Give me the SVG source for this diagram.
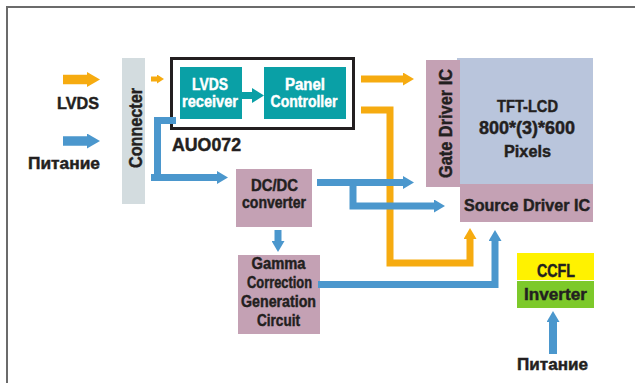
<svg xmlns="http://www.w3.org/2000/svg" width="635" height="383" viewBox="0 0 635 383">
  <style>
    text { font-family: "Liberation Sans", Arial, sans-serif; font-weight: bold; fill: #231f20; stroke: #231f20; stroke-width: 0.45; text-anchor: middle; }
    text.w { fill: #ffffff; stroke: #ffffff; }
    .teal { fill: #0aa0a6; }
    .mauve { fill: #c4a1b4; }
    .blue { fill: none; stroke: #4b97cd; stroke-width: 7; stroke-linejoin: miter; }
    .orange { fill: none; stroke: #f6ab10; stroke-width: 7; stroke-linejoin: miter; }
  </style>
  <defs>
    <marker id="headBlue" markerUnits="userSpaceOnUse" markerWidth="11" markerHeight="13" refX="0.5" refY="6.5" orient="auto">
      <path d="M0,0 L11,6.5 L0,13 z" fill="#4b97cd"/>
    </marker>
    <marker id="headOrange" markerUnits="userSpaceOnUse" markerWidth="11" markerHeight="13" refX="0.5" refY="6.5" orient="auto">
      <path d="M0,0 L11,6.5 L0,13 z" fill="#f6ab10"/>
    </marker>
    <marker id="bigBlue" markerUnits="userSpaceOnUse" markerWidth="13" markerHeight="15" refX="0.5" refY="7.5" orient="auto">
      <path d="M0,0 L13,7.5 L0,15 z" fill="#4b97cd"/>
    </marker>
    <marker id="bigOrange" markerUnits="userSpaceOnUse" markerWidth="13" markerHeight="15" refX="0.5" refY="7.5" orient="auto">
      <path d="M0,0 L13,7.5 L0,15 z" fill="#f6ab10"/>
    </marker>
    <marker id="smallOrange" markerUnits="userSpaceOnUse" markerWidth="7" markerHeight="9" refX="0.5" refY="4.5" orient="auto">
      <path d="M0,0 L7,4.5 L0,9 z" fill="#f6ab10"/>
    </marker>
    <marker id="headTeal" markerUnits="userSpaceOnUse" markerWidth="12" markerHeight="15" refX="0.5" refY="7.5" orient="auto">
      <path d="M0,0 L12,7.5 L0,15 z" fill="#0aa0a6"/>
    </marker>
  </defs>

  <rect width="635" height="383" fill="#ffffff"/>
  <!-- page frame -->
  <rect x="7" y="7" width="640" height="390" fill="none" stroke="#6b6b6b" stroke-width="2"/>

  <!-- input labels -->
  <g id="in-lvds">
    <text x="78" y="108.5" font-size="16.5" textLength="42" lengthAdjust="spacingAndGlyphs">LVDS</text>
  </g>
  <g id="in-power">
    <text x="64" y="168.5" font-size="16.5" textLength="72" lengthAdjust="spacingAndGlyphs">Питание</text>
  </g>

  <g id="connecter">
    <rect x="122" y="58" width="23" height="146" fill="#d3dcdf"/>
    <text transform="translate(142,128) rotate(-90)" font-size="18" textLength="80" lengthAdjust="spacingAndGlyphs">Connecter</text>
  </g>

  <g id="auo072">
    <rect x="171.5" y="58.5" width="182" height="70" fill="#ffffff" stroke="#231f20" stroke-width="3"/>
    <text x="172" y="151" font-size="18" style="text-anchor:start" textLength="69" lengthAdjust="spacingAndGlyphs">AUO072</text>
  </g>

  <g id="lvds-receiver">
    <rect class="teal" x="180" y="67" width="62" height="52"/>
    <text class="w" x="210" y="90" font-size="16" textLength="36" lengthAdjust="spacingAndGlyphs">LVDS</text>
    <text class="w" x="210" y="107" font-size="16" textLength="56" lengthAdjust="spacingAndGlyphs">receiver</text>
  </g>

  <g id="panel-controller">
    <rect class="teal" x="264" y="67" width="82" height="52"/>
    <text class="w" x="305" y="90" font-size="16" textLength="40" lengthAdjust="spacingAndGlyphs">Panel</text>
    <text class="w" x="304" y="107" font-size="16" textLength="67" lengthAdjust="spacingAndGlyphs">Controller</text>
  </g>

  <g id="dcdc">
    <rect class="mauve" x="236" y="169" width="76" height="58"/>
    <text x="274.5" y="191" font-size="16" textLength="47" lengthAdjust="spacingAndGlyphs">DC/DC</text>
    <text x="274" y="208" font-size="16" textLength="64" lengthAdjust="spacingAndGlyphs">converter</text>
  </g>

  <g id="gamma">
    <rect class="mauve" x="238" y="255" width="82" height="79"/>
    <text x="278.5" y="269" font-size="16" textLength="54" lengthAdjust="spacingAndGlyphs">Gamma</text>
    <text x="279.5" y="288" font-size="16" textLength="65" lengthAdjust="spacingAndGlyphs">Correction</text>
    <text x="278.5" y="307" font-size="16" textLength="75" lengthAdjust="spacingAndGlyphs">Generation</text>
    <text x="278.5" y="326" font-size="16" textLength="43" lengthAdjust="spacingAndGlyphs">Circuit</text>
  </g>

  <g id="tft-lcd">
    <rect x="457" y="58" width="136" height="126" fill="#b9c5dc"/>
    <text x="527.5" y="112" font-size="16.5" textLength="61" lengthAdjust="spacingAndGlyphs">TFT-LCD</text>
    <text x="527" y="134" font-size="17.5" textLength="96" lengthAdjust="spacingAndGlyphs">800*(3)*600</text>
    <text x="527.5" y="157" font-size="16.5" textLength="47" lengthAdjust="spacingAndGlyphs">Pixels</text>
  </g>

  <g id="gate-driver">
    <rect class="mauve" x="426" y="60" width="34" height="127"/>
    <text transform="translate(451.5,123.5) rotate(-90)" font-size="18" textLength="109" lengthAdjust="spacingAndGlyphs">Gate Driver IC</text>
  </g>

  <g id="source-driver">
    <rect class="mauve" x="460" y="184" width="133" height="38"/>
    <text x="527" y="211" font-size="16.5" textLength="126" lengthAdjust="spacingAndGlyphs">Source Driver IC</text>
  </g>

  <g id="ccfl">
    <rect x="517" y="253" width="77" height="27" fill="#fff200"/>
    <text x="556" y="277" font-size="17.5" textLength="38" lengthAdjust="spacingAndGlyphs">CCFL</text>
  </g>

  <g id="inverter">
    <rect x="517" y="281" width="77" height="27" fill="#7dc92a"/>
    <text x="555.5" y="299.5" font-size="17" textLength="63" lengthAdjust="spacingAndGlyphs">Inverter</text>
  </g>

  <g id="inverter-power">
    <text x="552.5" y="369.5" font-size="16.5" textLength="71" lengthAdjust="spacingAndGlyphs">Питание</text>
  </g>

  <g id="connectors">
    <!-- external inputs -->
    <path class="orange" d="M63,79.5 H87.5" style="stroke-width:9.5" marker-end="url(#bigOrange)"/>
    <path class="blue" d="M63,141 H87.5" style="stroke-width:9.5" marker-end="url(#bigBlue)"/>
    <path class="orange" d="M151,79 H157.5" style="stroke-width:5" marker-end="url(#smallOrange)"/>
    <!-- inside AUO072 -->
    <path fill="none" stroke="#0aa0a6" stroke-width="7" d="M242,95.5 H252.5" marker-end="url(#headTeal)"/>
    <!-- controller to drivers -->
    <path class="orange" d="M361,79 H403.5" marker-end="url(#headOrange)"/>
    <path class="orange" d="M361,110 H390 V263 H470 V238.5" marker-end="url(#headOrange)"/>
    <!-- power distribution -->
    <path class="blue" d="M176,120.5 H157.5 V178"/>
    <path class="blue" d="M151,177.5 H217.5" marker-end="url(#headBlue)"/>
    <path class="blue" d="M317,182.5 H403.5" marker-end="url(#headBlue)"/>
    <path class="blue" d="M353,182.5 V206 H434.5" marker-end="url(#headBlue)"/>
    <path class="blue" d="M278,230 V241.5" marker-end="url(#headBlue)"/>
    <path class="blue" d="M318,284.5 H495 V240.5" marker-end="url(#headBlue)"/>
    <path class="blue" d="M553,354 V321.5" style="stroke-width:8" marker-end="url(#headBlue)"/>
  </g>
</svg>
